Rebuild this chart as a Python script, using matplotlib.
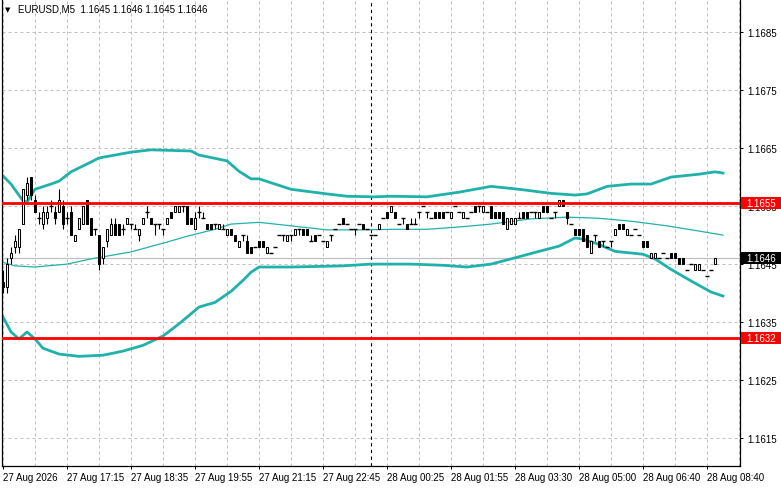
import matplotlib
matplotlib.use("Agg")
import matplotlib.pyplot as plt
import matplotlib.transforms as mtransforms
from matplotlib.patches import Rectangle

plt.rcParams['font.family'] = ['Liberation Sans', 'DejaVu Sans']

# --- data --------------------------------------------------------------
title = "EURUSD,M5  1.1645 1.1646 1.1645 1.1646"

time_labels = ["27 Aug 2026", "27 Aug 17:15", "27 Aug 18:35", "27 Aug 19:55",
               "27 Aug 21:15", "27 Aug 22:45", "28 Aug 00:25", "28 Aug 01:55",
               "28 Aug 03:30", "28 Aug 05:00", "28 Aug 06:40", "28 Aug 08:40"]
time_label_bars = [0, 16, 32, 48, 64, 80, 96, 112, 128, 144, 160, 176]

price_ticks = [1.1615, 1.1625, 1.1635, 1.1645, 1.1655, 1.1665, 1.1675, 1.1685]

opens = [
    1.1642, 1.1641, 1.1646, 1.1648, 1.1648, 1.1652, 1.1657, 1.1660, 1.1656, 1.1653,
    1.1652, 1.1653, 1.1655, 1.1654, 1.1654, 1.1655, 1.1653, 1.1654, 1.1649, 1.1651,
    1.1652, 1.1656, 1.1653, 1.1651, 1.1650, 1.1646, 1.1649, 1.1650, 1.1652, 1.1652,
    1.1651, 1.1652, 1.1652, 1.1651, 1.1650, 1.1652, 1.1654, 1.1653, 1.1652, 1.1652,
    1.1651, 1.1652, 1.1654, 1.1654, 1.1654, 1.1655, 1.1655, 1.1653, 1.1651, 1.1654,
    1.1653, 1.1652, 1.1652, 1.1652, 1.1651, 1.1651, 1.1650, 1.1651, 1.1650, 1.1648,
    1.1650, 1.1649, 1.1648, 1.1648, 1.1649, 1.1649, 1.1647, 1.1647, 1.1648, 1.1650,
    1.1650, 1.1649, 1.1650, 1.1650, 1.1651, 1.1651, 1.1651, 1.1649, 1.1650, 1.1650,
    1.1649, 1.1648, 1.1650, 1.1651, 1.1652, 1.1653, 1.1652, 1.1651, 1.1651, 1.1652,
    1.1652, 1.1651, 1.1650, 1.1650, 1.1651, 1.1653, 1.1654, 1.1654, 1.1654, 1.1652,
    1.1653, 1.1652, 1.1652, 1.1652, 1.1654, 1.1655, 1.1654, 1.1653, 1.1654, 1.1654,
    1.1654, 1.1654, 1.1653, 1.1655, 1.1654, 1.1653, 1.1653, 1.1654, 1.1655, 1.1655,
    1.1654, 1.1654, 1.1655, 1.1654, 1.1654, 1.1654, 1.1651, 1.1652, 1.1652, 1.1653,
    1.1654, 1.1654, 1.1654, 1.1654, 1.1653, 1.1655, 1.1655, 1.1653, 1.1654, 1.1655,
    1.1656, 1.1654, 1.1652, 1.1651, 1.1651, 1.1651, 1.1650, 1.1647, 1.1650, 1.1649,
    1.1649, 1.1648, 1.1649, 1.1650, 1.1652, 1.1652, 1.1650, 1.1650, 1.1651, 1.1650,
    1.1649, 1.1649, 1.1646, 1.1646, 1.1646, 1.1647, 1.1646, 1.1647, 1.1647, 1.1646,
    1.1646, 1.1644, 1.1645, 1.1644, 1.1644, 1.1644, 1.1643, 1.1644, 1.1645,
]
highs = [
    1.1644, 1.1646, 1.1648, 1.1650, 1.1651, 1.1658, 1.1660, 1.1660, 1.1657, 1.1654,
    1.1655, 1.1655, 1.1656, 1.1655, 1.1658, 1.1656, 1.1654, 1.1655, 1.1650, 1.1653,
    1.1655, 1.1656, 1.1653, 1.1651, 1.1650, 1.1648, 1.1651, 1.1653, 1.1653, 1.1652,
    1.1652, 1.1653, 1.1652, 1.1652, 1.1651, 1.1653, 1.1655, 1.1653, 1.1652, 1.1652,
    1.1651, 1.1653, 1.1654, 1.1655, 1.1655, 1.1655, 1.1655, 1.1653, 1.1654, 1.1655,
    1.1654, 1.1652, 1.1652, 1.1652, 1.1652, 1.1652, 1.1651, 1.1651, 1.1650, 1.1649,
    1.1650, 1.1650, 1.1648, 1.1648, 1.1649, 1.1649, 1.1648, 1.1647, 1.1648, 1.1650,
    1.1650, 1.1650, 1.1650, 1.1651, 1.1651, 1.1651, 1.1651, 1.1650, 1.1650, 1.1650,
    1.1649, 1.1649, 1.1650, 1.1651, 1.1652, 1.1653, 1.1652, 1.1651, 1.1651, 1.1652,
    1.1652, 1.1651, 1.1650, 1.1650, 1.1652, 1.1653, 1.1654, 1.1655, 1.1654, 1.1652,
    1.1653, 1.1652, 1.1653, 1.1653, 1.1654, 1.1655, 1.1654, 1.1653, 1.1654, 1.1654,
    1.1654, 1.1654, 1.1654, 1.1655, 1.1654, 1.1654, 1.1653, 1.1654, 1.1655, 1.1655,
    1.1655, 1.1654, 1.1655, 1.1654, 1.1654, 1.1654, 1.1653, 1.1653, 1.1653, 1.1654,
    1.1654, 1.1654, 1.1654, 1.1654, 1.1654, 1.1655, 1.1655, 1.1653, 1.1654, 1.1656,
    1.1656, 1.1654, 1.1652, 1.1651, 1.1651, 1.1651, 1.1650, 1.1649, 1.1650, 1.1649,
    1.1649, 1.1648, 1.1649, 1.1651, 1.1652, 1.1652, 1.1651, 1.1650, 1.1651, 1.1650,
    1.1649, 1.1649, 1.1647, 1.1647, 1.1646, 1.1647, 1.1646, 1.1647, 1.1647, 1.1646,
    1.1646, 1.1644, 1.1645, 1.1645, 1.1645, 1.1644, 1.1643, 1.1644, 1.1646,
]
lows = [
    1.1640, 1.1640, 1.1645, 1.1647, 1.1647, 1.1652, 1.1656, 1.1656, 1.1654, 1.1652,
    1.1651, 1.1652, 1.1654, 1.1652, 1.1654, 1.1651, 1.1652, 1.1650, 1.1649, 1.1651,
    1.1652, 1.1652, 1.1650, 1.1650, 1.1644, 1.1645, 1.1648, 1.1650, 1.1650, 1.1650,
    1.1650, 1.1652, 1.1651, 1.1651, 1.1649, 1.1652, 1.1653, 1.1652, 1.1650, 1.1651,
    1.1650, 1.1652, 1.1653, 1.1654, 1.1654, 1.1654, 1.1652, 1.1652, 1.1651, 1.1653,
    1.1653, 1.1651, 1.1651, 1.1651, 1.1651, 1.1651, 1.1650, 1.1650, 1.1649, 1.1648,
    1.1649, 1.1647, 1.1647, 1.1648, 1.1648, 1.1648, 1.1647, 1.1647, 1.1648, 1.1650,
    1.1649, 1.1649, 1.1649, 1.1650, 1.1650, 1.1650, 1.1650, 1.1649, 1.1649, 1.1650,
    1.1649, 1.1648, 1.1649, 1.1651, 1.1652, 1.1652, 1.1652, 1.1651, 1.1650, 1.1652,
    1.1651, 1.1651, 1.1650, 1.1650, 1.1651, 1.1653, 1.1653, 1.1654, 1.1653, 1.1652,
    1.1652, 1.1651, 1.1652, 1.1652, 1.1653, 1.1655, 1.1653, 1.1653, 1.1653, 1.1653,
    1.1653, 1.1654, 1.1653, 1.1655, 1.1654, 1.1653, 1.1653, 1.1654, 1.1654, 1.1654,
    1.1654, 1.1654, 1.1653, 1.1653, 1.1653, 1.1652, 1.1651, 1.1652, 1.1652, 1.1653,
    1.1653, 1.1653, 1.1654, 1.1653, 1.1653, 1.1654, 1.1654, 1.1653, 1.1653, 1.1655,
    1.1655, 1.1652, 1.1652, 1.1650, 1.1650, 1.1649, 1.1648, 1.1647, 1.1649, 1.1648,
    1.1648, 1.1648, 1.1648, 1.1650, 1.1651, 1.1651, 1.1650, 1.1650, 1.1651, 1.1650,
    1.1648, 1.1648, 1.1646, 1.1646, 1.1646, 1.1647, 1.1646, 1.1646, 1.1646, 1.1645,
    1.1645, 1.1644, 1.1645, 1.1644, 1.1644, 1.1644, 1.1643, 1.1644, 1.1645,
]
closes = [
    1.1641, 1.1645, 1.1647, 1.1649, 1.1651, 1.1658, 1.1659, 1.1657, 1.1654, 1.1653,
    1.1654, 1.1654, 1.1655, 1.1653, 1.1656, 1.1652, 1.1653, 1.1650, 1.1650, 1.1653,
    1.1655, 1.1652, 1.1650, 1.1651, 1.1645, 1.1648, 1.1651, 1.1652, 1.1650, 1.1650,
    1.1651, 1.1653, 1.1652, 1.1651, 1.1651, 1.1653, 1.1654, 1.1652, 1.1652, 1.1652,
    1.1651, 1.1653, 1.1653, 1.1655, 1.1655, 1.1655, 1.1652, 1.1652, 1.1653, 1.1654,
    1.1653, 1.1651, 1.1651, 1.1652, 1.1652, 1.1651, 1.1651, 1.1650, 1.1649, 1.1649,
    1.1650, 1.1647, 1.1647, 1.1648, 1.1648, 1.1648, 1.1648, 1.1647, 1.1648, 1.1650,
    1.1650, 1.1650, 1.1650, 1.1651, 1.1651, 1.1650, 1.1650, 1.1649, 1.1649, 1.1650,
    1.1649, 1.1649, 1.1650, 1.1651, 1.1652, 1.1652, 1.1652, 1.1651, 1.1651, 1.1652,
    1.1651, 1.1651, 1.1650, 1.1650, 1.1652, 1.1653, 1.1653, 1.1655, 1.1653, 1.1652,
    1.1653, 1.1651, 1.1652, 1.1652, 1.1654, 1.1655, 1.1654, 1.1653, 1.1653, 1.1653,
    1.1653, 1.1654, 1.1654, 1.1655, 1.1654, 1.1654, 1.1653, 1.1654, 1.1654, 1.1655,
    1.1655, 1.1654, 1.1653, 1.1653, 1.1653, 1.1652, 1.1653, 1.1653, 1.1653, 1.1653,
    1.1653, 1.1653, 1.1654, 1.1654, 1.1654, 1.1654, 1.1654, 1.1653, 1.1654, 1.1656,
    1.1655, 1.1653, 1.1652, 1.1650, 1.1650, 1.1649, 1.1648, 1.1649, 1.1650, 1.1648,
    1.1649, 1.1648, 1.1649, 1.1651, 1.1651, 1.1651, 1.1651, 1.1650, 1.1651, 1.1650,
    1.1648, 1.1648, 1.1647, 1.1647, 1.1646, 1.1647, 1.1646, 1.1646, 1.1646, 1.1645,
    1.1645, 1.1644, 1.1645, 1.1645, 1.1645, 1.1644, 1.1643, 1.1644, 1.1646,
]

# bollinger bands, read at a handful of bars
upper_bars = [0, 2, 5, 6, 8, 12, 14, 17, 22, 24, 32, 37, 47, 49, 56, 59, 62, 64,
              68, 72, 81, 86, 93, 97, 106, 114, 122, 129, 137, 143, 146, 151,
              157, 162, 167, 174, 178, 180]
upper_band = [1.16602, 1.16588, 1.16559, 1.16557, 1.16579, 1.16588, 1.16593,
              1.16609, 1.16626, 1.16633, 1.16643, 1.16647, 1.16645, 1.16638,
              1.16628, 1.16610, 1.16597, 1.16597, 1.16588, 1.16579, 1.16571,
              1.16567, 1.16566, 1.16567, 1.16566, 1.16574, 1.16584, 1.16579,
              1.16572, 1.16569, 1.16571, 1.16584, 1.16588, 1.16588, 1.16600,
              1.16605, 1.16609, 1.16607]

middle_bars = [0, 3, 8, 16, 22, 32, 41, 46, 53, 57, 64, 72, 81, 89, 98, 106, 114,
               122, 132, 141, 149, 157, 166, 174, 180]
middle_band = [1.16453, 1.16447, 1.16445, 1.16450, 1.16459, 1.16471, 1.16488,
               1.16498, 1.16510, 1.16519, 1.16522, 1.16516, 1.16509, 1.16509,
               1.16510, 1.16510, 1.16514, 1.16519, 1.16528, 1.16531, 1.16529,
               1.16524, 1.16516, 1.16507, 1.16500]

lower_bars = [0, 2, 4, 6, 8, 10, 14, 19, 25, 30, 35, 40, 44, 49, 53, 57, 60, 62,
              64, 72, 85, 92, 102, 110, 116, 122, 127, 134, 139, 143, 145, 149,
              153, 160, 163, 167, 172, 177, 180]
lower_band = [1.16359, 1.16333, 1.16321, 1.16333, 1.16321, 1.16305, 1.16295,
              1.16291, 1.16293, 1.16300, 1.16310, 1.16326, 1.16347, 1.16376,
              1.16384, 1.16403, 1.16422, 1.16436, 1.16445, 1.16445, 1.16447,
              1.16450, 1.16450, 1.16448, 1.16445, 1.16450, 1.16459, 1.16472,
              1.16481, 1.16495, 1.16493, 1.16484, 1.16472, 1.16467, 1.16459,
              1.16441, 1.16421, 1.16402, 1.16395]

levels = [1.16556, 1.16322]
level_labels = ["1.1655", "1.1632"]
last_price = 1.1646
last_label = "1.1646"
day_sep_bar = 92

# --- figure ----------------------------------------------------------------
W, H = 781, 489
fig = plt.figure(figsize=(W / 100, H / 100), dpi=100)
ax = fig.add_axes([2 / W, (H - 467) / H, 738 / W, 467 / H])

teal = '#20b2aa'
grid_c = '#c0c0c0'

ax.set_xlim(-0.25, 184.25)
ax.set_ylim(1.16102, 1.16907)

ax.set_yticks(price_ticks)
ax.set_yticklabels([f"{p:.4f}" for p in price_ticks])
ax.yaxis.tick_right()
ax.tick_params(axis='y', direction='out', length=2.2, width=0.72, pad=2.8,
               labelsize=7, colors='black')

ax.set_xticks(time_label_bars)
ax.set_xticklabels(time_labels)
ax.set_xticks([b + 8 for b in time_label_bars], minor=True)
for lbl in ax.get_xticklabels():
    lbl.set_ha('left')
ax.tick_params(axis='x', direction='out', length=2.2, width=0.72, pad=2,
               labelsize=7, colors='black')
ax.tick_params(axis='x', which='minor', length=0)

ax.grid(True, which='both', color=grid_c, lw=0.72, ls=(0, (3, 3)), zorder=0)
ax.set_axisbelow(True)

for s in ['left', 'bottom', 'right']:
    ax.spines[s].set_linewidth(0.9)
    ax.spines[s].set_color('black')
ax.spines['top'].set_visible(False)

# current price line and day separator
ax.axhline(last_price, color=grid_c, lw=0.9, zorder=1)
ax.axvline(day_sep_bar, color='black', lw=0.8, ls=(0, (3, 3)), zorder=1)

# bands
ax.plot(upper_bars, upper_band, color=teal, lw=2.0, zorder=2)
ax.plot(lower_bars, lower_band, color=teal, lw=2.0, zorder=2)
ax.plot(middle_bars, middle_band, color=teal, lw=0.9, zorder=2)

# candles
xs = list(range(len(opens)))
ax.vlines(xs, lows, highs, color='black', lw=0.8, zorder=3)
for i, (o, c) in enumerate(zip(opens, closes)):
    if o == c:
        ax.hlines(o, i - 0.4, i + 0.4, color='black', lw=1.0, zorder=4)
    else:
        fc = 'white' if c > o else 'black'
        ax.bar(i, abs(c - o), bottom=min(o, c), width=0.58, color=fc,
               edgecolor='black', lw=0.75, zorder=4)

# horizontal levels
for lv in levels:
    ax.axhline(lv, color='#ff0000', lw=2.0, zorder=5)

# price boxes on the axis
trans = mtransforms.blended_transform_factory(ax.transAxes, ax.transData)
half = 6 / 58000
boxes = [(levels[0], level_labels[0], '#ff0000'),
         (levels[1], level_labels[1], '#ff0000'),
         (last_price, last_label, 'black')]
for val, txt, col in boxes:
    ax.add_patch(Rectangle((1.0014, val - half), 0.06, 2 * half, transform=trans,
                           facecolor=col, edgecolor='none', clip_on=False,
                           zorder=10))
    ax.text(1.0085, val, txt, transform=trans, color='white', fontsize=7,
            ha='left', va='center', clip_on=False, zorder=11)

# header
fig.text(5 / W, 1 - 10 / H, "\u25bc", fontsize=5, family=['DejaVu Sans'],
         ha='left', va='center', color='black')
fig.text(18 / W, 1 - 10 / H, title, fontsize=7, ha='left', va='center',
         color='black')

fig.savefig("out.png", dpi=100)
